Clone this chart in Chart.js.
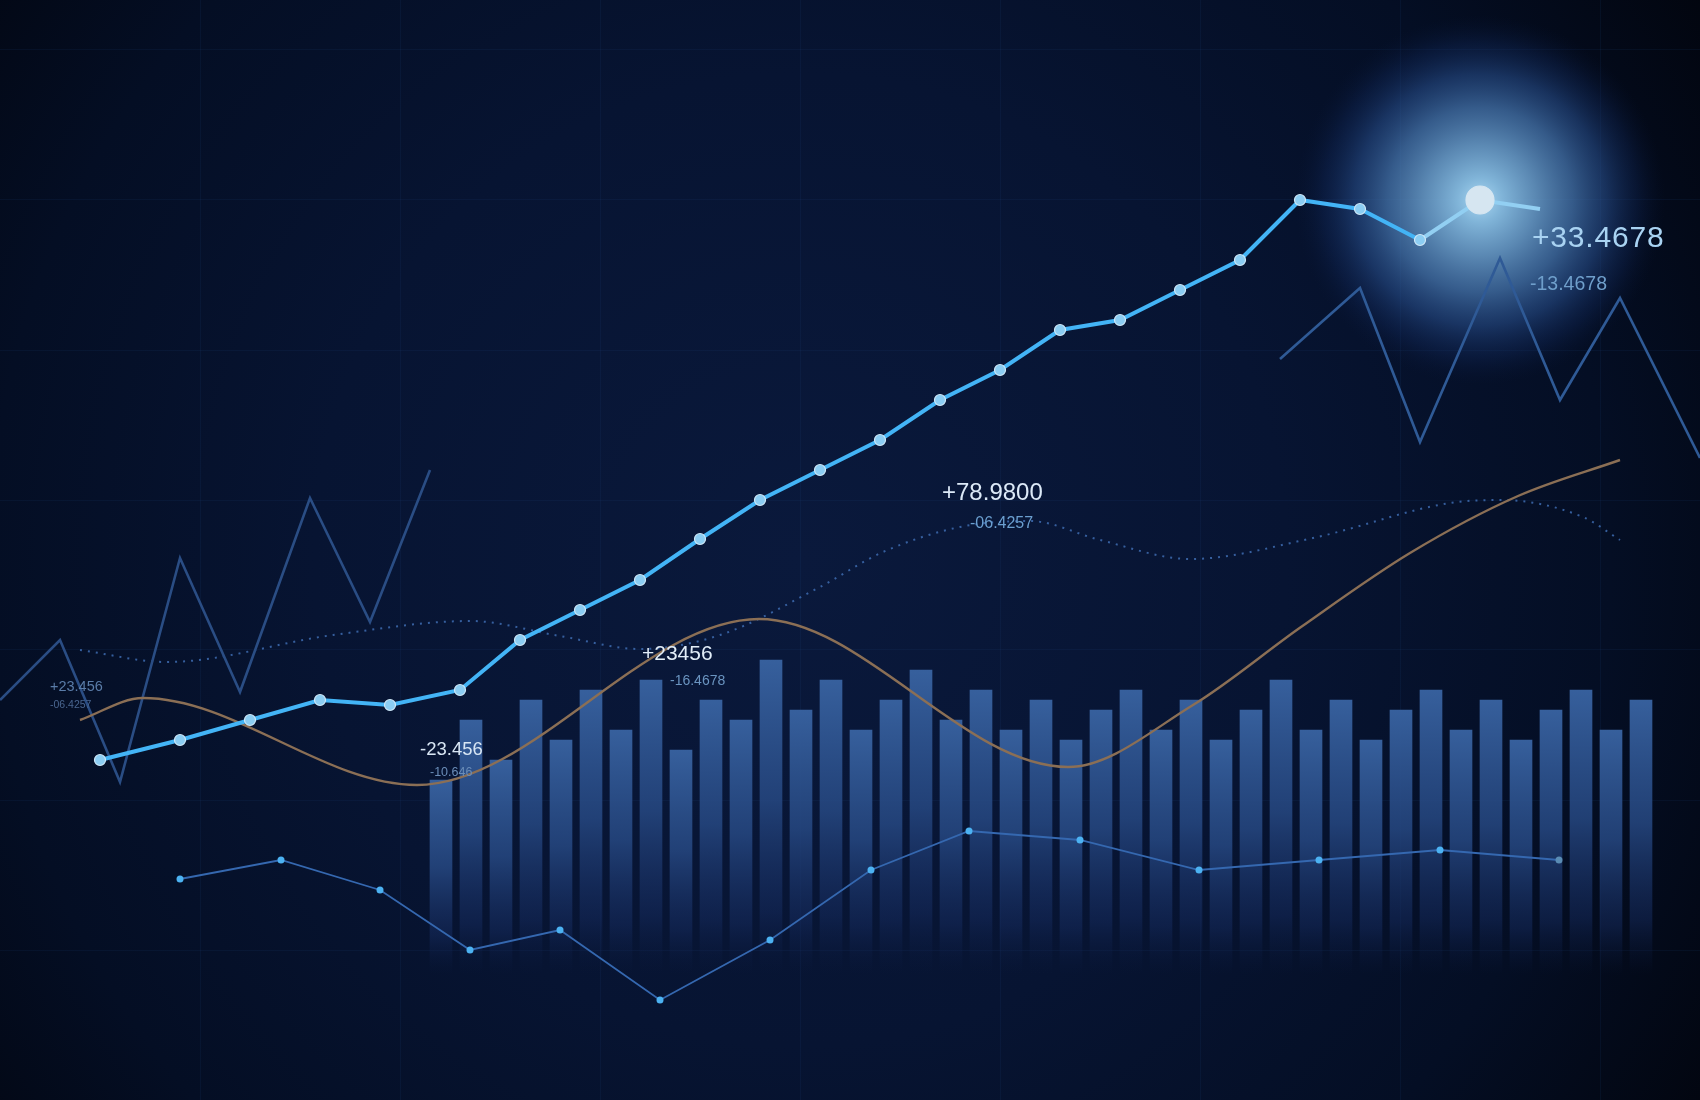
<!DOCTYPE html>
<html>
<head>
<meta charset="utf-8">
<script src="https://cdn.jsdelivr.net/npm/chart.js@4.4.0/dist/chart.umd.min.js"></script>
<style>
    html, body { margin: 0; padding: 0; background: #040b1e; }
    #wrap { width: 1700px; height: 1100px; position: relative; }
</style>
</head>
<body>
<div id="wrap"><canvas id="grafico"></canvas></div>
<script>
// Serie principal (línea brillante)
const mainX = [10, 18, 25, 32, 39, 46, 52, 58, 64, 70, 76, 82, 88, 94, 100, 106, 112, 118, 124, 130, 136, 142, 148, 154];
const mainY = [34, 36, 38, 40, 39.5, 41, 46, 49, 52, 56.1, 60, 63, 66, 70, 73, 77, 78, 81, 84, 90, 89.1, 86, 90, 89.1];

// Zigzag izquierdo y derecho
const zigLeftX = [0, 6, 12, 18, 24, 31, 37, 43];
const zigLeftY = [40, 46, 31.8, 54.2, 40.8, 60.2, 47.8, 63];
const zigRightX = [128, 136, 142, 150, 156, 162, 170];
const zigRightY = [74.1, 81.2, 65.8, 84.2, 70, 80.2, 64.2];

// Curva marrón suave
const waveX = [8, 14.3, 41.7, 75.9, 106.8, 119.3, 130.1, 141, 151.8, 162];
const waveY = [38, 40.2, 31.5, 48.1, 33.3, 39.5, 47.3, 54.7, 60.4, 64];

// Curva punteada
const dotX = [8, 16.7, 33.3, 47, 56, 64, 72, 82, 88.3, 96, 103, 110, 119, 131.3, 145, 150, 158.3, 162];
const dotY = [45, 43.8, 46.5, 47.9, 46.4, 45.1, 46.5, 51.3, 54.8, 57.3, 57.9, 56, 54.1, 56.2, 59.7, 60, 58.3, 56];

// Línea inferior fina
const lowX = [18, 28.1, 38, 47, 56, 66, 77, 87.1, 96.9, 108, 119.9, 131.9, 144, 155.9];
const lowY = [22.1, 24, 21, 15, 17, 10, 16, 23, 26.9, 26, 23, 24, 25, 24];

// Barras
const barX = [44.1, 47.1, 50.1, 53.1, 56.1, 59.1, 62.1, 65.1, 68.1, 71.1, 74.1, 77.1, 80.1, 83.1,
    86.1, 89.1, 92.1, 95.1, 98.1, 101.1, 104.1, 107.1, 110.1, 113.1, 116.1, 119.1, 122.1, 125.1,
    128.1, 131.1, 134.1, 137.1, 140.1, 143.1, 146.1, 149.1, 152.1, 155.1, 158.1, 161.1, 164.1];
const barTops = [32, 38, 34, 40, 36, 41, 37, 42, 35, 40, 38, 44, 39, 42, 37, 40, 43, 38, 41, 37, 40,
    36, 39, 41, 37, 40, 36, 39, 42, 37, 40, 36, 39, 41, 37, 40, 36, 39, 41, 37, 40];
const barFloor = 12.5;

// Textos de las etiquetas
const calloutMain = ['+33.4678', '+78.9800', '+23456', '-23.456', '+23.456'];
const calloutSub = ['-13.4678', '-06.4257', '-16.4678', '-10.646', '-06.4257'];

// Posición y estilo de cada etiqueta (x, y en unidades de los ejes, tamaño, color, espaciado)
const calloutLayout = [
    { main: [153.2, 85.3, 30, '#a9d3f2', 0.8], sub: [153.0, 81.0, 19.5, '#6f9fcb', 0] },
    { main: [94.2, 60.0, 24, '#dce9f7', 0], sub: [97.0, 57.2, 16, '#6b9fd0', 0] },
    { main: [64.2, 44.0, 21, '#e2edf8', 0], sub: [67.0, 41.5, 14, '#6a94c0', 0] },
    { main: [42.0, 34.5, 18.5, '#d8e6f4', 0], sub: [43.0, 32.4, 12.5, '#6a8db8', 0] },
    { main: [5.0, 40.9, 14.5, '#5a7ca8', 0], sub: [5.0, 39.2, 10.5, '#4a6690', 0] }
];

const GLOW_INDEX = 22;

function pts(xs, ys) {
    return xs.map((x, i) => ({ x: x, y: ys[i] }));
}

// Fondo con viñeta, resplandor y etiquetas
const fondoPlugin = {
    id: 'fondo',
    beforeDraw(chart) {
        const ctx = chart.ctx;
        const w = chart.width, h = chart.height;
        ctx.save();
        const g = ctx.createRadialGradient(800, 560, 0, 800, 560, 1080);
        g.addColorStop(0, '#0a193c');
        g.addColorStop(0.45, '#071432');
        g.addColorStop(0.75, '#040e24');
        g.addColorStop(1, '#02050e');
        ctx.fillStyle = g;
        ctx.fillRect(0, 0, w, h);
        ctx.restore();
    },
    beforeDatasetsDraw(chart) {
        const ctx = chart.ctx;
        const cx = chart.scales.x.getPixelForValue(mainX[GLOW_INDEX]);
        const cy = chart.scales.y.getPixelForValue(mainY[GLOW_INDEX]);
        const r = 185;
        ctx.save();
        const g = ctx.createRadialGradient(cx, cy, 0, cx, cy, r);
        g.addColorStop(0, 'rgba(170,215,242,1)');
        g.addColorStop(0.12, 'rgba(138,193,230,0.93)');
        g.addColorStop(0.3, 'rgba(106,158,204,0.85)');
        g.addColorStop(0.5, 'rgba(74,124,182,0.7)');
        g.addColorStop(0.68, 'rgba(44,86,152,0.52)');
        g.addColorStop(0.85, 'rgba(22,50,108,0.28)');
        g.addColorStop(1, 'rgba(10,25,60,0)');
        ctx.fillStyle = g;
        ctx.beginPath();
        ctx.arc(cx, cy, r, 0, Math.PI * 2);
        ctx.fill();
        ctx.restore();
    },
    afterDatasetsDraw(chart) {
        const ctx = chart.ctx;
        const sx = chart.scales.x, sy = chart.scales.y;
        ctx.save();
        ctx.textBaseline = 'alphabetic';
        ctx.textAlign = 'left';
        calloutLayout.forEach((c, i) => {
            [[calloutMain[i], c.main], [calloutSub[i], c.sub]].forEach(([txt, p]) => {
                ctx.font = p[2] + 'px "Liberation Sans", Arial, sans-serif';
                ctx.fillStyle = p[3];
                ctx.letterSpacing = p[4] + 'px';
                ctx.fillText(txt, sx.getPixelForValue(p[0]), sy.getPixelForValue(p[1]));
            });
        });
        ctx.restore();
    }
};

function colorBarra(c) {
    if (c.type !== 'data' || !c.chart.chartArea) return '#2f5894';
    const chart = c.chart;
    const sy = chart.scales.y;
    const top = sy.getPixelForValue(c.raw.y[1]);
    const bot = sy.getPixelForValue(c.raw.y[0]);
    const g = chart.ctx.createLinearGradient(0, top, 0, bot);
    g.addColorStop(0, 'rgba(56,98,160,0.97)');
    g.addColorStop(0.45, 'rgba(38,72,130,0.85)');
    g.addColorStop(0.8, 'rgba(22,44,96,0.5)');
    g.addColorStop(1, 'rgba(12,28,66,0)');
    return g;
}

const radiosMain = mainX.map((x, i) => i === GLOW_INDEX ? 14 : (i === mainX.length - 1 ? 0 : 5.5));
const fondoMain = mainX.map((x, i) => i === GLOW_INDEX ? '#d6e6f1' : '#8ccdf2');
const bordeMain = mainX.map((x, i) => i === GLOW_INDEX ? '#d6e6f1' : '#cfe8f8');
const fondoLow = lowX.map((x, i) => i === lowX.length - 1 ? '#5a8cb4' : '#4cb2f2');

const colorRejilla = 'rgba(40,80,150,0.11)';

function inicializarGrafico() {
    const ctx = document.getElementById('grafico').getContext('2d');
    new Chart(ctx, {
        type: 'line',
        data: {
            datasets: [
                {
                    type: 'bar',
                    data: barX.map((x, i) => ({ x: x, y: [barFloor, barTops[i]] })),
                    backgroundColor: colorBarra,
                    borderWidth: 0,
                    barThickness: 22,
                    order: 10
                },
                {
                    data: pts(dotX, dotY),
                    borderColor: 'rgba(62,108,178,0.85)',
                    borderWidth: 2,
                    borderDash: [2, 6],
                    cubicInterpolationMode: 'monotone',
                    pointRadius: 0,
                    order: 6
                },
                {
                    data: pts(zigLeftX, zigLeftY),
                    borderColor: '#2a4d84',
                    borderWidth: 2.6,
                    tension: 0,
                    pointRadius: 0,
                    order: 5
                },
                {
                    data: pts(zigRightX, zigRightY),
                    borderColor: '#2f5a96',
                    borderWidth: 2.6,
                    tension: 0,
                    pointRadius: 0,
                    order: 5
                },
                {
                    data: pts(lowX, lowY),
                    borderColor: '#3568b0',
                    borderWidth: 1.8,
                    tension: 0,
                    pointRadius: 3.5,
                    pointBorderWidth: 0,
                    pointBackgroundColor: fondoLow,
                    order: 4
                },
                {
                    data: pts(waveX, waveY),
                    borderColor: '#8b6f55',
                    borderWidth: 2.4,
                    cubicInterpolationMode: 'monotone',
                    pointRadius: 0,
                    order: 3
                },
                {
                    data: pts(mainX, mainY),
                    borderColor: '#43b4f6',
                    borderWidth: 4,
                    tension: 0,
                    pointRadius: radiosMain,
                    pointBackgroundColor: fondoMain,
                    pointBorderColor: bordeMain,
                    pointBorderWidth: 1.2,
                    segment: {
                        borderColor: s => s.p0DataIndex >= GLOW_INDEX - 1 ? '#92cff2' : undefined
                    },
                    order: 0
                }
            ]
        },
        options: {
            responsive: true,
            maintainAspectRatio: false,
            animation: false,
            events: [],
            layout: { padding: 0, autoPadding: false },
            plugins: {
                legend: { display: false },
                tooltip: { enabled: false }
            },
            scales: {
                x: {
                    type: 'linear',
                    min: 0,
                    max: 170,
                    offset: false,
                    border: { display: false },
                    ticks: { display: false, stepSize: 20 },
                    grid: {
                        offset: false,
                        drawTicks: false,
                        color: c => (c.tick && c.tick.value > 0 && c.tick.value < 170) ? colorRejilla : 'rgba(0,0,0,0)'
                    }
                },
                y: {
                    type: 'linear',
                    min: 0,
                    max: 110,
                    border: { display: false },
                    ticks: { display: false, stepSize: 15 },
                    grid: {
                        offset: false,
                        drawTicks: false,
                        color: c => (c.tick && c.tick.value > 0 && c.tick.value < 110) ? colorRejilla : 'rgba(0,0,0,0)'
                    }
                }
            }
        },
        plugins: [fondoPlugin]
    });
}

document.addEventListener('DOMContentLoaded', inicializarGrafico);
</script>
</body>
</html>
